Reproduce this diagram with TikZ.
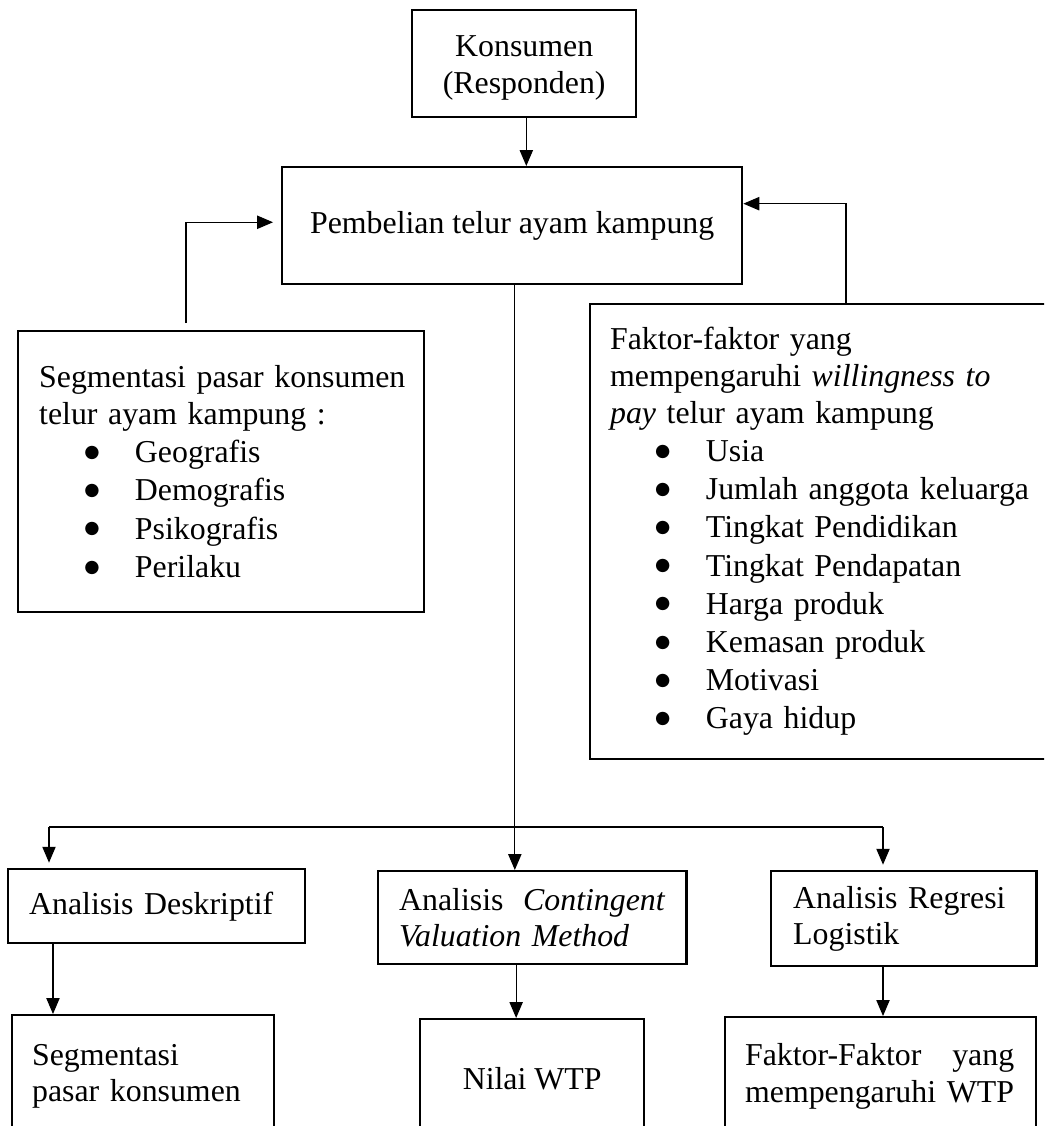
\documentclass[tikz,border=0pt]{standalone}
\usepackage{fontspec}
\setmainfont{Liberation Serif}
\newfontfamily\bulatfont{DejaVu Sans}
\usepackage{tikz}
\usetikzlibrary{arrows.meta}

\newcommand{\butir}[1]{\hspace*{17pt}\makebox[19.1pt][l]{\raisebox{2pt}{\bulatfont\fontsize{6.6pt}{6.6pt}\selectfont ●}}#1}

\tikzset{
	kotak/.style={draw, line width=0.9pt, inner ysep=0pt, anchor=north west, font=\fontsize{12pt}{13.8pt}\selectfont},
	panah/.style={-{Triangle[length=6pt,width=5pt]}, line width=0.45pt},
}

\begin{document}
\begin{tikzpicture}[x=0.3768pt, y=-0.3768pt]
			\useasboundingbox (0,0) rectangle (1044,1126);
			\clip (0,0) rectangle (1044,1126);
			\node[kotak, minimum width=84.4pt, minimum height=40.3pt, align=center] (konsumen) at (411,9) {\rule{0pt}{11pt}Konsumen\\(Responden)};
			\node[kotak, minimum width=173.3pt, minimum height=44.1pt] (pembelian) at (281,166) {Pembelian telur ayam kampung};
			\node[kotak, minimum width=153pt, minimum height=105.9pt, inner xsep=7.9pt, text width=137.2pt, align=left] (segmen) at (17,330)
				{\mbox{Segmentasi pasar konsumen}\\telur ayam kampung :\\[0.6pt]
				\butir{Geografis}\\[0.6pt] \butir{Demografis}\\[0.6pt] \butir{Psikografis}\\[0.6pt] \butir{Perilaku}};
			\node[kotak, minimum width=188.4pt, minimum height=171.4pt, inner xsep=7.5pt, text width=173.4pt, align=left] (faktor) at (589,303)
				{Faktor-faktor yang\\mempengaruhi \textit{willingness to}\\\textit{pay} telur ayam kampung\\[0.6pt]
				\butir{Usia}\\[0.6pt] \butir{Jumlah anggota keluarga}\\[0.6pt] \butir{Tingkat Pendidikan}\\[0.6pt] \butir{Tingkat Pendapatan}\\[0.6pt]
				\butir{Harga produk}\\[0.6pt] \butir{Kemasan produk}\\[0.6pt] \butir{Motivasi}\\[0.6pt] \butir{Gaya hidup}};
			\node[kotak, minimum width=111.9pt, minimum height=27.9pt, inner xsep=7.9pt, text width=96.1pt, align=left] (deskriptif) at (7,868) {Analisis Deskriptif};
			\node[kotak, minimum width=116.1pt, minimum height=35pt, inner xsep=7.9pt, text width=100.3pt, align=left] (cvm) at (377,870)
				{\makebox[100.3pt][l]{Analisis\hfill\textit{Contingent}}\\\textit{Valuation Method}};
			\node[kotak, minimum width=99.9pt, minimum height=35.8pt, inner xsep=8.3pt, text width=83.3pt, align=left] (regresi) at (770,870) {Analisis Regresi\\Logistik};
			\node[kotak, minimum width=98.7pt, minimum height=46pt, inner xsep=7.5pt, text width=83.7pt, align=left] (segpasar) at (11,1014) {Segmentasi\\pasar konsumen};
			\node[kotak, minimum width=84.4pt, minimum height=44.5pt] (wtp) at (419,1018) {Nilai WTP};
			\node[kotak, minimum width=117.2pt, minimum height=44.5pt, inner xsep=7.5pt, text width=102.2pt, align=left] (faktorwtp) at (724,1016)
				{\makebox[101.4pt][l]{Faktor-Faktor\hfill yang}\\mempengaruhi WTP};
			\coordinate (kiriA) at (186,323);
			\coordinate (kananA) at (846,303);
			\coordinate (cabKiri) at (49,827);
			\coordinate (cabKanan) at (883,827);
			\draw[panah] ([xshift=0.8pt]konsumen.south) -- ([xshift=0.8pt]konsumen.south |- pembelian.north);
			\draw[panah, shorten >=3pt] (kiriA) |- ([yshift=1.3pt]pembelian.west);
			\draw[panah] (kananA) |- ([yshift=8.3pt]pembelian.east);
			\draw[panah] ([xshift=1pt]pembelian.south) -- ([xshift=1pt]pembelian.south |- cvm.north);
			\draw[line width=0.45pt] (cabKiri) -- (cabKanan);
			\draw[panah] (cabKiri) -- ([yshift=2pt]cabKiri |- deskriptif.north);
			\draw[panah] (cabKanan) -- ([yshift=2pt]cabKanan |- regresi.north);
			\draw[panah] ([xshift=1.5pt]cabKiri |- deskriptif.south) -- ([xshift=1.5pt]cabKiri |- segpasar.north);
			\draw[panah] ([xshift=1.5pt]pembelian.south |- cvm.south) -- ([xshift=1.5pt]pembelian.south |- wtp.north);
			\draw[panah] (cabKanan |- regresi.south) -- (cabKanan |- faktorwtp.north);
\end{tikzpicture}
\end{document}
